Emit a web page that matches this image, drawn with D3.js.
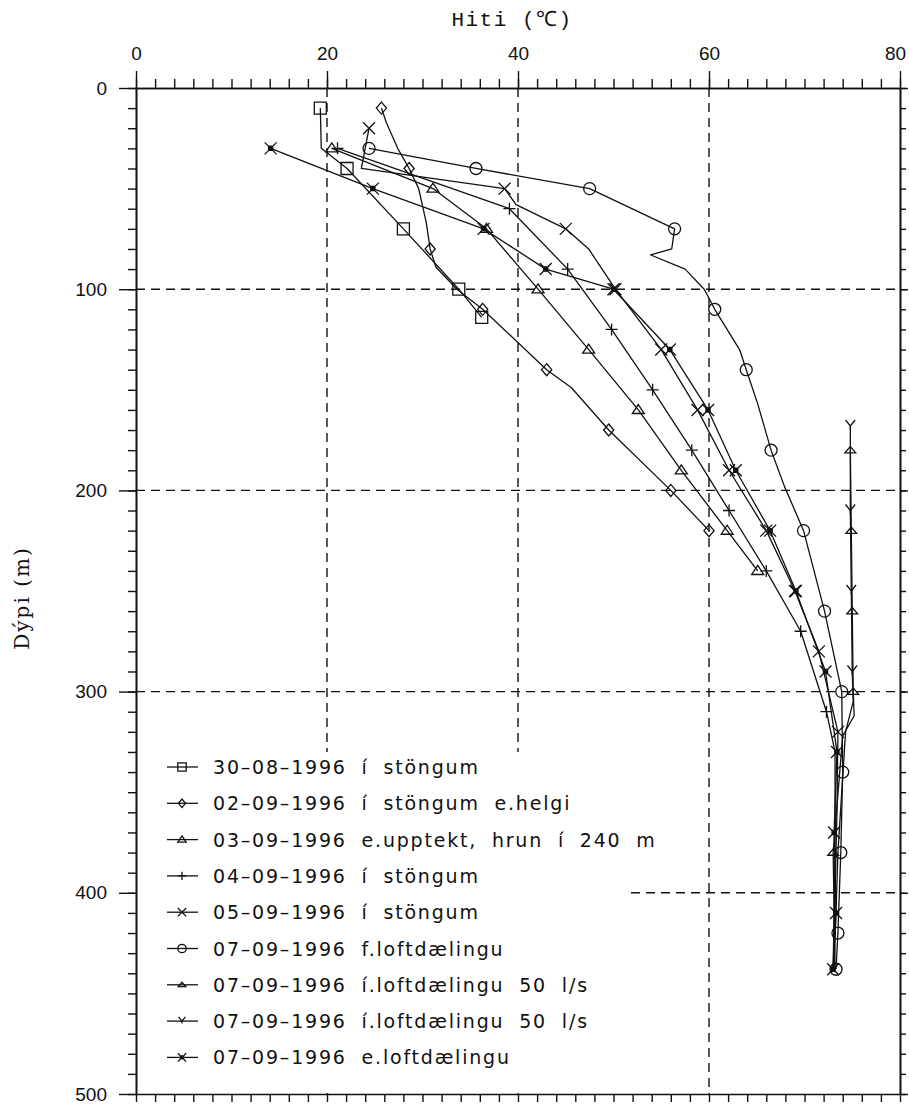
<!DOCTYPE html>
<html>
<head>
<meta charset="utf-8">
<script src="https://cdn.jsdelivr.net/npm/d3@7"></script>
<style>
  body { margin: 0; background: #fff; }
  svg { display: block; }
</style>
</head>
<body>
<script>
// Axis ticks and grid positions
const tempTicks = [0, 20, 40, 60, 80];
const depthTicks = [0, 100, 200, 300, 400, 500];
const tempGrid = [20, 40, 60];
const depthGrid = [100, 200, 300, 400];

// Temperature logs: [temperature °C, depth m, symbol drawn (1) or plain vertex (0)]
const run300896 = [[19.3,10,1],[19.4,30,0],[22.1,40,1],[28.0,70,1],[33.8,100,1],[36.2,114,1]];
const run020996 = [[25.7,10,1],[26.2,17,0],[27.4,30,0],[28.6,40,1],[29.6,50,0],[30.4,67,0],[30.8,80,1],
  [31.4,89,0],[33.6,100,0],[36.3,110,1],[43.0,140,1],[45.6,149,0],[49.5,170,1],[56.0,200,1],[60.0,220,1]];
const run030996 = [[20.5,30,1],[31.1,50,1],[36.7,70,1],[42.1,100,1],[47.4,130,1],[52.6,160,1],
  [57.1,190,1],[61.9,220,1],[65.1,240,1]];
const run040996 = [[21.1,30,1],[39.1,60,1],[45.2,90,1],[49.8,120,1],[54.1,150,1],[58.2,180,1],
  [62.1,210,1],[66.0,240,1],[69.6,270,1],[72.3,310,1],[73.2,330,0],[73.2,380,0],[73.0,438,0]];
const run050996 = [[24.4,20,1],[23.6,40,0],[38.6,50,1],[39.8,58,0],[45.0,70,1],[47.4,80,0],[50.2,100,1],
  [55.0,130,1],[58.8,160,1],[62.1,190,1],[66.0,220,1],[69.0,250,1],[71.5,280,1],[73.5,320,1],
  [73.4,360,0],[73.2,400,0],[73.0,438,0]];
const run070996f = [[24.4,30,1],[35.6,40,1],[47.5,50,1],[56.4,70,1],[56.1,80,0],[53.9,83,0],[57.5,90,0],
  [59.5,100,0],[60.6,110,1],[63.2,130,0],[63.9,140,1],[65.1,157,0],[66.5,180,1],[67.9,198,0],
  [69.9,220,1],[72.1,260,1],[73.9,300,1],[74.0,340,1],[73.8,380,1],[73.5,420,1],[73.3,438,1]];
const run070996i1 = [[74.8,180,1],[74.9,220,1],[75.0,260,1],[75.1,300,1],[75.2,312,0],[74.0,322,0],
  [73.0,380,1],[73.2,438,0]];
const run070996i2 = [[74.8,168,1],[74.8,210,1],[74.9,250,1],[75.0,290,1],[75.1,305,0],[74.3,320,0],
  [73.5,380,0],[73.1,438,0]];
const run070996e = [[14.1,30,1],[24.8,50,1],[36.4,70,1],[42.9,90,1],[50.0,100,1],[55.9,130,1],
  [59.9,160,1],[62.8,190,1],[66.4,220,1],[69.1,250,1],[72.2,290,1],[73.4,330,1],[73.1,370,1],
  [73.3,410,1],[73.0,438,1]];

const seriesLabels = [
  "30–08–1996 í stöngum",
  "02–09–1996 í stöngum e.helgi",
  "03–09–1996 e.upptekt, hrun í 240 m",
  "04–09–1996 í stöngum",
  "05–09–1996 í stöngum",
  "07–09–1996 f.loftdælingu",
  "07–09–1996 í.loftdælingu 50 l/s",
  "07–09–1996 í.loftdælingu 50 l/s",
  "07–09–1996 e.loftdælingu"
];
const seriesSymbols = ["square", "diamond", "triangle", "plus", "cross", "circle", "arrowUp", "arrowDown", "star"];
const seriesData = [run300896, run020996, run030996, run040996, run050996,
  run070996f, run070996i1, run070996i2, run070996e];

const W = 909, H = 1110;
const svg = d3.select("body").append("svg").attr("width", W).attr("height", H);

const x = d3.scaleLinear().domain([0, 80]).range([136, 900]);
const y = d3.scaleLinear().domain([0, 500]).range([88, 1094]);

// Symbol outlines around (0,0); s = half size
function symbolPath(type, s) {
  switch (type) {
    case "square": return `M${-s},${-s}H${s}V${s}H${-s}Z`;
    case "diamond": return `M0,${-s}L${s * 0.85},0L0,${s}L${-s * 0.85},0Z`;
    case "triangle": return `M0,${-s * 0.9}L${s},${s * 0.6}L${-s},${s * 0.6}Z`;
    case "arrowUp": return `M0,${-s * 0.6}L${s * 0.9},${s * 0.45}L${-s * 0.9},${s * 0.45}Z`;
    case "plus": return `M${-s},0H${s}M0,${-s}V${s}`;
    case "cross": return `M${-s},${-s}L${s},${s}M${-s},${s}L${s},${-s}`;
    case "circle": return `M${-s},0A${s},${s} 0 1,0 ${s},0A${s},${s} 0 1,0 ${-s},0Z`;
    case "arrowDown": return `M${-s * 0.8},${-s}L0,0L${s * 0.8},${-s}M0,0V${s * 0.6}`;
    case "star": return `M${-s},${-s}L${s},${s}M${-s},${s}L${s},${-s}M${-s * 0.35},${-s * 0.35}h${s * 0.7}v${s * 0.7}h${-s * 0.7}Z`;
  }
}

// Dashed grid
const grid = svg.append("g").attr("stroke", "#111").attr("stroke-width", 1.4)
  .attr("stroke-dasharray", "9,6").attr("fill", "none");
grid.selectAll("line.gx").data(tempGrid).join("line")
  .attr("x1", d => x(d)).attr("x2", d => x(d)).attr("y1", y(0)).attr("y2", y(500));
grid.selectAll("line.gy").data(depthGrid).join("line")
  .attr("x1", x(0)).attr("x2", x(80)).attr("y1", d => y(d)).attr("y2", d => y(d));

// Legend panel masks the grid below it
const legendTop = 752;
svg.append("rect").attr("x", x(0) + 1).attr("y", legendTop).attr("width", 628 - x(0) - 1)
  .attr("height", y(500) - legendTop - 1).attr("fill", "#fff");

// Profiles
const line = d3.line().x(d => x(d[0])).y(d => y(d[1]));
const plot = svg.append("g");
seriesData.forEach((data, i) => {
  const g = plot.append("g");
  g.append("path").datum(data).attr("d", line)
    .attr("fill", "none").attr("stroke", "#111").attr("stroke-width", 1.3)
    .attr("stroke-linejoin", "round");
  const sym = seriesSymbols[i];
  g.selectAll("path.m").data(data.filter(d => d[2])).join("path")
    .attr("class", "m")
    .attr("transform", d => `translate(${x(d[0])},${y(d[1])})`)
    .attr("d", symbolPath(sym, 6))
    .attr("fill", sym === "star" ? "#111" : "none")
    .attr("stroke", "#111").attr("stroke-width", 1.3);
});

// Axes
const tickFont = "'Liberation Sans', Arial, sans-serif";
function styleAxis(g) {
  g.selectAll("path.domain").attr("stroke", "#111").attr("stroke-width", 1.6);
  g.selectAll(".tick line").attr("stroke", "#111").attr("stroke-width", 1.4);
  g.selectAll("text").attr("font-family", tickFont).attr("font-size", 19).attr("fill", "#111");
}
const minorTemp = d3.range(0, 81, 2);
const minorDepth = d3.range(0, 501, 10);

// top
svg.append("g").attr("transform", `translate(0,${y(0)})`)
  .call(d3.axisTop(x).tickValues(minorTemp).tickSize(9).tickSizeOuter(0).tickFormat(""))
  .call(styleAxis);
const topMajor = svg.append("g").attr("transform", `translate(0,${y(0)})`)
  .call(d3.axisTop(x).tickValues(tempTicks).tickSize(17).tickSizeOuter(0).tickPadding(11).tickFormat(d3.format("d")))
  .call(styleAxis);
// keep the last label inside the page edge
topMajor.selectAll(".tick text").filter(d => d === 80).attr("dx", -5);
// bottom
svg.append("g").attr("transform", `translate(0,${y(500)})`)
  .call(d3.axisBottom(x).tickValues(minorTemp).tickSize(8).tickSizeOuter(0).tickFormat(""))
  .call(styleAxis);
// left
svg.append("g").attr("transform", `translate(${x(0)},0)`)
  .call(d3.axisLeft(y).tickValues(minorDepth).tickSize(8).tickSizeOuter(0).tickFormat(""))
  .call(styleAxis);
svg.append("g").attr("transform", `translate(${x(0)},0)`)
  .call(d3.axisLeft(y).tickValues(depthTicks).tickSize(17).tickSizeOuter(0).tickPadding(12).tickFormat(d3.format("d")))
  .call(styleAxis);
// right
svg.append("g").attr("transform", `translate(${x(80)},0)`)
  .call(d3.axisRight(y).tickValues(minorDepth).tickSize(6).tickSizeOuter(0).tickFormat(""))
  .call(styleAxis);
svg.append("g").attr("transform", `translate(${x(80)},0)`)
  .call(d3.axisRight(y).tickValues(depthTicks).tickSize(8).tickSizeOuter(0).tickFormat(""))
  .call(styleAxis);

// Axis titles
const titleFont = "'Liberation Mono', 'DejaVu Sans Mono', monospace";
svg.append("text").attr("x", 512).attr("y", 20).attr("text-anchor", "middle")
  .attr("dominant-baseline", "central")
  .attr("font-family", titleFont).attr("font-size", 21).attr("letter-spacing", 1.5)
  .attr("fill", "#111").text("Hiti (℃)");
svg.append("text").attr("transform", "translate(22,598) rotate(-90)").attr("text-anchor", "middle")
  .attr("dominant-baseline", "central")
  .attr("font-family", "'DejaVu Serif', serif").attr("font-size", 20).attr("letter-spacing", 2)
  .attr("fill", "#111").text("Dýpi (m)");

// Legend
const legend = svg.append("g");
const rowY = i => 767 + i * 36.3;
seriesLabels.forEach((label, i) => {
  const g = legend.append("g").attr("transform", `translate(0,${rowY(i)})`);
  g.append("line").attr("x1", 167).attr("x2", 198).attr("y1", 0).attr("y2", 0)
    .attr("stroke", "#111").attr("stroke-width", 1.3);
  g.append("path").attr("transform", "translate(182,0)")
    .attr("d", symbolPath(seriesSymbols[i], 4.2))
    .attr("fill", seriesSymbols[i] === "star" ? "#111" : "none")
    .attr("stroke", "#111").attr("stroke-width", 1.3);
  g.append("text").attr("x", 213).attr("y", 0).attr("dominant-baseline", "central")
    .attr("font-family", "'DejaVu Sans', sans-serif").attr("font-size", 19)
    .attr("letter-spacing", 1.8).attr("word-spacing", 7)
    .attr("fill", "#111").text(label);
});
</script>
</body>
</html>
